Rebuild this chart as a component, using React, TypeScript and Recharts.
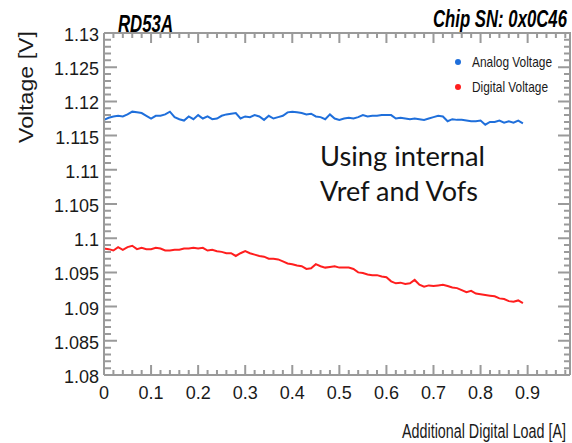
import { LineChart, Line, XAxis, YAxis, Legend } from 'recharts';

// Supply voltages vs. additional digital load, one reading every 10 mA
const analogVoltage = [
  1.1173, 1.1176, 1.1178, 1.1179, 1.1178, 1.1181, 1.1185, 1.1184, 1.1183, 1.1179,
  1.1175, 1.1179, 1.1179, 1.1181, 1.1185, 1.1177, 1.1174, 1.1172, 1.1178, 1.1174,
  1.118, 1.1175, 1.1178, 1.1174, 1.1175, 1.1179, 1.1181, 1.1182, 1.1183, 1.1175,
  1.1178, 1.1177, 1.118, 1.1178, 1.1173, 1.1179, 1.1175, 1.1177, 1.1179, 1.1184,
  1.1185, 1.1184, 1.1183, 1.1181, 1.1182, 1.1178, 1.1177, 1.1174, 1.1181, 1.1175,
  1.1173, 1.1175, 1.1176, 1.1175, 1.1177, 1.118, 1.1178, 1.1179, 1.1179, 1.118,
  1.118, 1.118, 1.1175, 1.1176, 1.1175, 1.1174, 1.1175, 1.1174, 1.1173, 1.1175,
  1.1177, 1.1179, 1.1178, 1.1171, 1.1174, 1.1173, 1.1173, 1.1172, 1.1171, 1.1171,
  1.1172, 1.1166, 1.117, 1.117, 1.1172, 1.1169, 1.1171, 1.1169, 1.1172, 1.1168,
];

const digitalVoltage = [
  1.0985, 1.0984, 1.0982, 1.0987, 1.0983, 1.0987, 1.0989, 1.0984, 1.0986, 1.0984,
  1.0984, 1.0986, 1.0985, 1.0982, 1.0982, 1.0983, 1.0983, 1.0985, 1.0985, 1.0986,
  1.0985, 1.0986, 1.0982, 1.0983, 1.0981, 1.098, 1.0978, 1.0978, 1.0974, 1.0978,
  1.0981, 1.0978, 1.0976, 1.0974, 1.0973, 1.097, 1.097, 1.0969, 1.0966, 1.0963,
  1.0962, 1.096, 1.0959, 1.0955, 1.0956, 1.0962, 1.0959, 1.0957, 1.0958, 1.0959,
  1.0957, 1.0957, 1.0957, 1.0955, 1.095, 1.0949, 1.0947, 1.0946, 1.0946, 1.0944,
  1.0943, 1.0937, 1.0934, 1.0935, 1.0933, 1.0934, 1.0939, 1.0932, 1.0929, 1.0931,
  1.093, 1.0931, 1.0932, 1.093, 1.0928, 1.0927, 1.0924, 1.0921, 1.0923, 1.0919,
  1.0918, 1.0917, 1.0916, 1.0915, 1.0912, 1.0911, 1.0908, 1.0907, 1.0909, 1.0905,
];

// load steps in A
const load = analogVoltage.map((_, i) => +(i * 0.01).toFixed(2));

const xMajor = [0, 0.1, 0.2, 0.3, 0.4, 0.5, 0.6, 0.7, 0.8, 0.9];
const yMajor = [1.08, 1.085, 1.09, 1.095, 1.1, 1.105, 1.11, 1.115, 1.12, 1.125, 1.13];

const X_MAX = 0.99;
const Y_MIN = 1.08;
const Y_MAX = 1.13;
const xTicks = Array.from({ length: 50 }, (_, i) => +(i * 0.02).toFixed(2));
const yTicks = Array.from({ length: 51 }, (_, i) => +(1.08 + i * 0.001).toFixed(3));

const data = load.map((x, i) => ({ x, analog: analogVoltage[i], digital: digitalVoltage[i] }));

const AXIS = '#9a9a9a';
const NARROW = '"Liberation Sans Narrow", "Arial Narrow", "Liberation Sans", sans-serif';
const SANS = '"Liberation Sans", Arial, sans-serif';

// plot box (chart margins + axis sizes below)
const PLOT_LEFT = 104;
const PLOT_TOP = 33;
const PLOT_RIGHT = 570;
const PLOT_BOTTOM = 375;

const px = (v: number) => PLOT_LEFT + (v / X_MAX) * (PLOT_RIGHT - PLOT_LEFT);
const py = (v: number) => PLOT_TOP + ((Y_MAX - v) / (Y_MAX - Y_MIN)) * (PLOT_BOTTOM - PLOT_TOP);

const near = (v: number, list: number[]) => list.some((m) => Math.abs(m - v) < 1e-6);

const BottomLabel = (props: any) => {
  const v = props.payload.value;
  if (!near(v, xMajor)) return <g />;
  return (
    <text x={props.x} y={Number(props.y) + 24} textAnchor="middle" fontFamily={NARROW} fontSize={18} fill="#1a1a1a">
      {String(v)}
    </text>
  );
};

const LeftLabel = (props: any) => {
  const v = props.payload.value;
  if (!near(v, yMajor)) return <g />;
  return (
    <text x={Number(props.x) - 5} y={Number(props.y) + 8} textAnchor="end" fontFamily={NARROW} fontSize={18} fill="#1a1a1a">
      {String(v)}
    </text>
  );
};

// inward ticks on all four sides of the frame, ROOT style
const FrameTicks = () => {
  const parts: string[] = [];
  parts.push(`M${PLOT_LEFT},${PLOT_TOP}H${PLOT_RIGHT}V${PLOT_BOTTOM}`);
  xTicks.forEach((t) => {
    const len = near(t, xMajor) ? 10 : 5;
    const x = px(t);
    parts.push(`M${x},${PLOT_BOTTOM}v${-len}M${x},${PLOT_TOP}v${len}`);
  });
  yTicks.forEach((t) => {
    const major = near(t, yMajor);
    const y = py(t);
    parts.push(`M${PLOT_LEFT},${y}h${major ? 13 : 7}M${PLOT_RIGHT},${y}h${major ? -12 : -6}`);
  });
  return <path d={parts.join('')} fill="none" stroke={AXIS} strokeWidth={2} />;
};

const LegendBox = ({ payload }: any) => (
  <svg width={122} height={48}>
    {(payload || []).map((entry: any, i: number) => (
      <g key={entry.value}>
        <circle cx={8} cy={12 + i * 25} r={3} fill={entry.color} />
        <text
          x={22}
          y={16.5 + i * 25}
          fontFamily={NARROW}
          fontSize={15}
          fill="#1a1a1a"
          textLength={i === 0 ? 80 : 76}
          lengthAdjust="spacingAndGlyphs"
        >
          {entry.value}
        </text>
      </g>
    ))}
  </svg>
);

export default function App() {
  return (
    <div style={{ position: 'absolute', left: 0, top: 0, width: 572, height: 443, background: '#fff' }}>
      <LineChart
        width={572}
        height={443}
        data={data}
        margin={{ top: PLOT_TOP, right: 572 - PLOT_RIGHT, bottom: 0, left: 0 }}
      >
        <XAxis
          dataKey="x"
          type="number"
          domain={[0, X_MAX]}
          ticks={xTicks}
          interval={0}
          height={443 - PLOT_BOTTOM}
          tickSize={0}
          tickMargin={0}
          tickLine={false}
          axisLine={{ stroke: AXIS, strokeWidth: 2 }}
          tick={<BottomLabel />}
        />
        <YAxis
          type="number"
          domain={[Y_MIN, Y_MAX]}
          ticks={yTicks}
          interval={0}
          width={PLOT_LEFT}
          tickSize={0}
          tickMargin={0}
          tickLine={false}
          axisLine={{ stroke: AXIS, strokeWidth: 2 }}
          tick={<LeftLabel />}
        />
        <Legend
          layout="vertical"
          align="center"
          verticalAlign="middle"
          wrapperStyle={{ left: 450, top: 50, width: 122, height: 48 }}
          content={<LegendBox />}
        />
        <Line
          dataKey="analog"
          name="Analog Voltage"
          type="linear"
          stroke="#1f6fdb"
          strokeWidth={2}
          dot={false}
          isAnimationActive={false}
        />
        <Line
          dataKey="digital"
          name="Digital Voltage"
          type="linear"
          stroke="#ff1e1e"
          strokeWidth={2}
          dot={false}
          isAnimationActive={false}
        />
      </LineChart>

      <svg
        width={572}
        height={443}
        style={{ position: 'absolute', left: 0, top: 0, pointerEvents: 'none' }}
      >
        <FrameTicks />
        <text x={118} y={32} fontFamily={NARROW} fontWeight="bold" fontStyle="italic" fontSize={23}
          textLength={55} lengthAdjust="spacingAndGlyphs">
          RD53A
        </text>
        <text x={433} y={27} fontFamily={NARROW} fontWeight="bold" fontStyle="italic" fontSize={23}
          textLength={134} lengthAdjust="spacingAndGlyphs">
          Chip SN: 0x0C46
        </text>
        <text x={33} y={143} transform="rotate(-90 33 143)" fontFamily={SANS} fontSize={20} fill="#1a1a1a"
          textLength={112} lengthAdjust="spacingAndGlyphs">
          Voltage [V]
        </text>
        <text x={402} y={438} fontFamily={SANS} fontSize={20} fill="#1a1a1a"
          textLength={164} lengthAdjust="spacingAndGlyphs">
          Additional Digital Load [A]
        </text>
        <text x={320} y={166} fontFamily="Lato, 'Open Sans', sans-serif" fontSize={27} fill="#141414"
          textLength={165} lengthAdjust="spacingAndGlyphs">
          Using internal
        </text>
        <text x={320} y={201} fontFamily="Lato, 'Open Sans', sans-serif" fontSize={27} fill="#141414"
          textLength={158} lengthAdjust="spacingAndGlyphs">
          Vref and Vofs
        </text>
      </svg>
    </div>
  );
}
